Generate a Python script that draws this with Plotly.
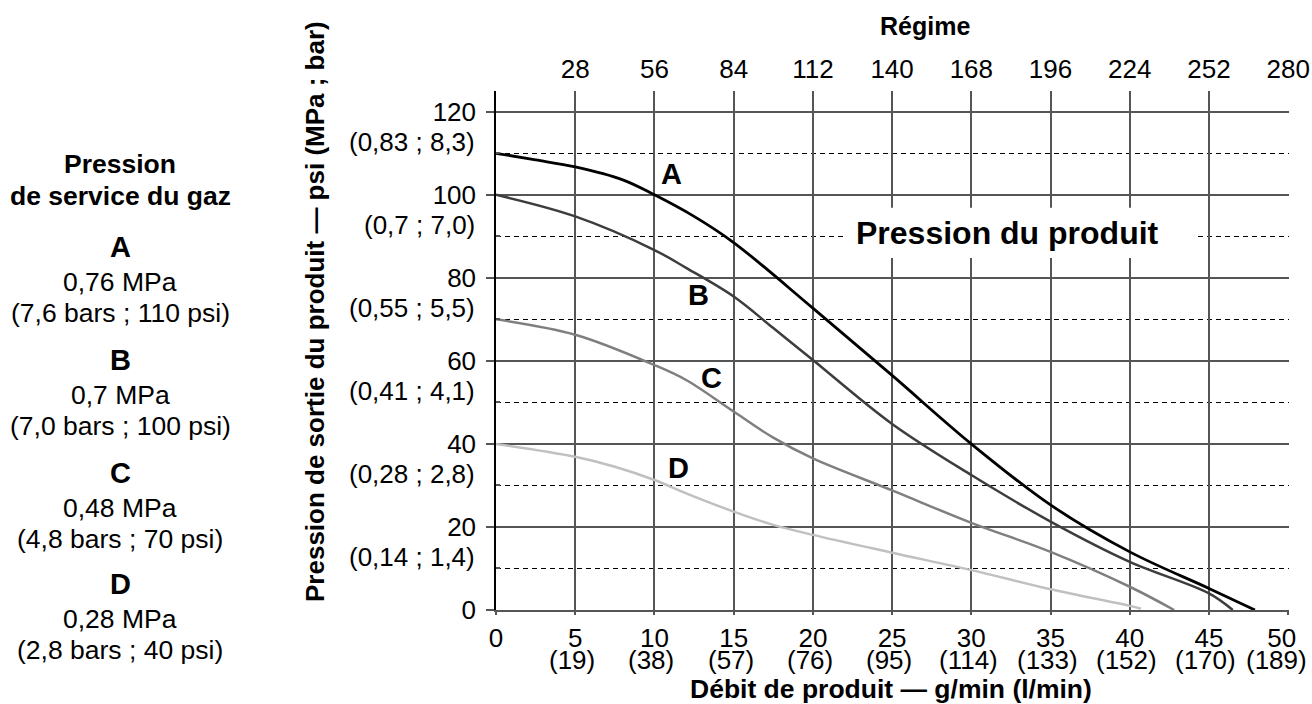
import plotly.graph_objects as go

# ---------------- data ----------------
flow_ticks = [0, 5, 10, 15, 20, 25, 30, 35, 40, 45, 50]
flow_labels = ["0", "5", "10", "15", "20", "25", "30", "35", "40", "45", "50\u2002"]
flow_lmin = ["", "(19)", "(38)", "(57)", "(76)", "(95)", "(114)", "(133)", "(152)", "(170)", "(189)"]
regime_ticks = [28, 56, 84, 112, 140, 168, 196, 224, 252, 280]
regime_labels = ["28", "56", "84", "112", "140", "168", "196", "224", "252", "280"]
psi_ticks = [0, 20, 40, 60, 80, 100, 120]
psi_brackets = ["", "(0,14 ; 1,4)", "(0,28 ; 2,8)", "(0,41 ; 4,1)", "(0,55 ; 5,5)", "(0,7 ; 7,0)", "(0,83 ; 8,3)"]
dashed_vals = [10, 30, 50, 70, 90, 110]

a_x = [0, 2.5, 5, 8, 10, 12.5, 15, 20, 25, 30, 35, 40, 45, 47.9]
a_y = [110, 108.4, 106.7, 103.6, 100, 94.8, 88.5, 72.7, 56.5, 40, 25.3, 14, 5.2, 0]
b_x = [0, 5, 10, 12, 15, 17.5, 20, 25, 30, 35, 40, 45, 46.5]
b_y = [100, 94.8, 86.7, 82.4, 75.5, 67.9, 60.2, 44.8, 32.5, 21.3, 11.6, 4.0, 0]
c_x = [0, 5, 10, 12, 15, 17.5, 20, 25, 30, 35, 40, 42.8]
c_y = [70, 66.3, 59, 55.4, 47.8, 41.5, 36.5, 28.8, 21, 14, 5.6, 0]
d_x = [0, 5, 7.5, 10, 12, 15, 17.5, 20, 25, 30, 35, 40, 40.7]
d_y = [40, 36.9, 34.5, 31.3, 28.1, 23.7, 20.5, 18.1, 13.8, 9.6, 5.0, 1.0, 0.3]

series = [("A", a_x, a_y, "#000000", 2.8, 11.1, 105.1),
          ("B", b_x, b_y, "#3d3d3d", 2.5, 12.8, 75.8),
          ("C", c_x, c_y, "#7f7f7f", 2.5, 13.6, 55.9),
          ("D", d_x, d_y, "#c0c0c0", 2.5, 11.5, 34.2)]

legend_title = ["Pression", "de service du gaz"]
legend_items = [("A", "0,76 MPa", "(7,6 bars ; 110 psi)"),
                ("B", "0,7 MPa", "(7,0 bars ; 100 psi)"),
                ("C", "0,48 MPa", "(4,8 bars ; 70 psi)"),
                ("D", "0,28 MPa", "(2,8 bars ; 40 psi)")]

# ---------------- layout helpers ----------------
W, H = 1312, 704
L, R, T, B = 496, 23, 91, 94
PW, PH = W - L - R, H - T - B
FONT = "Liberation Sans, Arial, Helvetica, sans-serif"
FS = 26


def px(xp):
    return (xp - L) / PW


def py(yp):
    return 1 - (yp - T) / PH


fig = go.Figure()
for name, xs, ys, col, lw, lx, ly in series:
    fig.add_trace(go.Scatter(x=xs, y=ys, mode="lines", name=name,
                             line=dict(color=col, width=lw, shape="spline", smoothing=1.0),
                             hoverinfo="skip", showlegend=False))
# invisible trace to carry the top (Régime) axis
fig.add_trace(go.Scatter(x=regime_ticks, y=[None] * len(regime_ticks), xaxis="x2",
                         mode="lines", showlegend=False, hoverinfo="skip"))

annotations = []
# curve labels
for name, xs, ys, col, lw, lx, ly in series:
    annotations.append(dict(x=lx, y=ly, xref="x", yref="y", text="<b>%s</b>" % name,
                            xanchor="center", yanchor="middle",
                            showarrow=False, font=dict(family=FONT, size=29, color="black")))

# x bracket labels (l/min)
for i, (v, t) in enumerate(zip(flow_ticks, flow_lmin)):
    if t:
        annotations.append(dict(x=v, y=0, xref="x", yref="paper", text=t, showarrow=False,
                                xanchor="center", yanchor="middle", yshift=-50,
                                xshift=(-12 if i == len(flow_ticks) - 1 else -3),
                                font=dict(family=FONT, size=FS, color="black")))
# y bracket labels (MPa ; bar)
for v, t in zip(psi_ticks, psi_brackets):
    if t:
        annotations.append(dict(x=0, y=v, xref="paper", yref="y", text=t, showarrow=False,
                                xanchor="right", yanchor="middle", xshift=-19, yshift=-30,
                                font=dict(family=FONT, size=FS, color="black")))

# axis titles
annotations.append(dict(x=px(891), y=py(689), xref="paper", yref="paper",
                        xanchor="center", yanchor="middle",
                        text="<b>Débit de produit — g/min (l/min)</b>", showarrow=False,
                        font=dict(family=FONT, size=26.5, color="black")))
annotations.append(dict(x=px(925), y=py(26), xref="paper", yref="paper",
                        xanchor="center", yanchor="middle",
                        text="<b>Régime</b>", showarrow=False,
                        font=dict(family=FONT, size=25, color="black")))
annotations.append(dict(x=px(315), y=py(312), xref="paper", yref="paper", textangle=-90,
                        xanchor="center", yanchor="middle",
                        text="<b>Pression de sortie du produit — psi (MPa ; bar)</b>", showarrow=False,
                        font=dict(family=FONT, size=26, color="black")))
annotations.append(dict(x=32.3, y=90.8, xref="x", yref="y",
                        xanchor="center", yanchor="middle",
                        text="<b>Pression du produit</b>", showarrow=False,
                        font=dict(family=FONT, size=32, color="black")))

# left legend block
CX = 120
LFS = 26.5


def legend_text(text, yp, size=LFS):
    annotations.append(dict(x=px(CX), y=py(yp), xref="paper", yref="paper", text=text,
                            xanchor="center", yanchor="middle",
                            showarrow=False, font=dict(family=FONT, size=size, color="black")))


legend_text("<b>%s</b>" % legend_title[0], 164)
legend_text("<b>%s</b>" % legend_title[1], 196)
base = [247, 360, 473, 584]
for (letter, mpa, bars), yb in zip(legend_items, base):
    legend_text("<b>%s</b>" % letter, yb, 29)
    legend_text(mpa, yb + 35)
    legend_text(bars, yb + 66)

shapes = [dict(type="rect", xref="x", yref="y", x0=22.1, x1=44.3, y0=84.8, y1=96.9,
               fillcolor="white", line=dict(width=0), layer="between")]

fig.update_layout(
    width=W, height=H,
    margin=dict(l=L, r=R, t=T, b=B, pad=0, autoexpand=False),
    plot_bgcolor="white", paper_bgcolor="white",
    font=dict(family=FONT, size=FS, color="black"),
    showlegend=False,
    xaxis=dict(range=[0, 50.05], tickvals=flow_ticks, ticktext=flow_labels,
               showgrid=True, gridcolor="#555555", gridwidth=1.5, automargin=False,
               showline=True, linecolor="#555555", linewidth=1.5,
               ticks="outside", ticklen=3, tickcolor="#555555", tickwidth=1.5,
               ticklabelstandoff=1, zeroline=False,
               tickfont=dict(family=FONT, size=FS, color="black")),
    xaxis2=dict(range=[0, 280 * 50.05 / 50], overlaying="x", side="top", tickvals=regime_ticks,
                ticktext=regime_labels,
                showgrid=False, showline=False, ticks="", zeroline=False, automargin=False,
                ticklabelstandoff=7,
                tickfont=dict(family=FONT, size=FS, color="black")),
    yaxis=dict(range=[0, 125], tickvals=psi_ticks, automargin=False,
               showgrid=True, gridcolor="#555555", gridwidth=1.5,
               showline=True, linecolor="black", linewidth=1.5,
               ticks="outside", ticklen=8, tickcolor="#555555", tickwidth=1.5,
               ticklabelstandoff=5, zeroline=False,
               minor=dict(tickvals=dashed_vals, showgrid=True, gridcolor="black", gridwidth=1,
                          griddash="5px,4px", ticks="inside", ticklen=4, tickcolor="#555555"),
               tickfont=dict(family=FONT, size=FS, color="black")),
    annotations=annotations,
    shapes=shapes,
)

fig.write_html("out.html", config={"displayModeBar": False},
               post_script="document.body.style.margin='0';")
